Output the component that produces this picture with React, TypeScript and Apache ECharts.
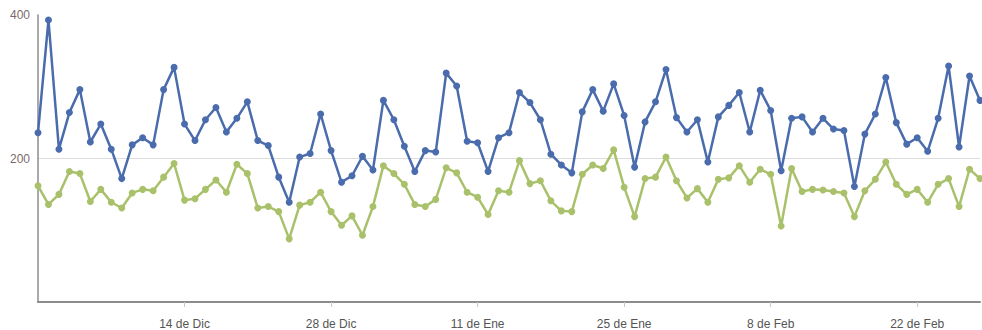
import React, { useEffect, useRef } from "react";
import * as echarts from "echarts";

const monthNames = ["Ene", "Feb", "Mar", "Abr", "May", "Jun", "Jul", "Ago", "Sep", "Oct", "Nov", "Dic"];
const startDate = [2014, 10, 30]; // 30 de Nov
const dayCount = 91;

const tickLabels = ["14 de Dic", "28 de Dic", "11 de Ene", "25 de Ene", "8 de Feb", "22 de Feb"];

const seriesBlue = [
  236, 393, 213, 264, 296, 223, 248, 213, 172, 219, 229, 219, 296, 327, 248, 225, 254, 271, 237, 256,
  279, 225, 218, 174, 139, 202, 207, 262, 211, 167, 176, 203, 184, 281, 254, 217, 182, 211, 209, 319,
  301, 224, 222, 182, 229, 236, 292, 278, 254, 206, 191, 180, 265, 296, 266, 304, 260, 188, 251, 279,
  324, 257, 237, 254, 195, 258, 274, 292, 237, 295, 267, 183, 256, 258, 237, 256, 241, 239, 161, 234,
  262, 313, 250, 220, 229, 210, 256, 329, 216, 315, 281,
];

const seriesGreen = [
  162, 136, 150, 182, 179, 140, 157, 139, 131, 152, 157, 155, 174, 193, 142, 144, 157, 170, 153, 192,
  179, 131, 133, 126, 88, 135, 139, 153, 126, 107, 120, 93, 133, 190, 179, 164, 136, 133, 143, 187,
  180, 153, 146, 122, 155, 153, 197, 165, 169, 141, 127, 126, 178, 191, 186, 212, 160, 119, 172, 174,
  202, 169, 145, 158, 139, 171, 173, 190, 167, 185, 178, 106, 186, 154, 157, 156, 154, 152, 119, 155,
  171, 195, 164, 150, 157, 139, 164, 172, 133, 185, 172,
];

function buildCategories(): string[] {
  const out: string[] = [];
  const d = new Date(startDate[0], startDate[1], startDate[2]);
  for (let i = 0; i < dayCount; i++) {
    out.push(d.getDate() + " de " + monthNames[d.getMonth()]);
    d.setDate(d.getDate() + 1);
  }
  return out;
}

const categories = buildCategories();

export default function App() {
  const ref = useRef<HTMLDivElement>(null);
  useEffect(() => {
    if (!ref.current) return;
    const chart = echarts.init(ref.current, undefined, { renderer: "svg" });
    const showIdx = (idx: number) => tickLabels.indexOf(categories[idx]) >= 0;
    chart.setOption({
      animation: false,
      textStyle: { fontFamily: "Liberation Sans, Arial, sans-serif" },
      grid: { left: 38, right: 2, top: 15, bottom: 28, containLabel: false },
      xAxis: {
        type: "category",
        data: categories,
        boundaryGap: false,
        axisLine: { lineStyle: { color: "#8c8c8c", width: 2 } },
        axisTick: { show: true, interval: (idx: number) => showIdx(idx), length: 5, lineStyle: { color: "#c8c8c8", width: 1 } },
        axisLabel: { interval: (idx: number) => showIdx(idx), color: "#555", fontSize: 12, margin: 16 },
        splitLine: { show: false },
      },
      yAxis: {
        type: "value",
        min: 0,
        max: 400,
        interval: 200,
        axisLine: { show: true, lineStyle: { color: "#8c8c8c", width: 1.5 } },
        axisTick: { show: false },
        axisLabel: { color: "#7a6a6a", fontSize: 12, margin: 8, showMinLabel: false },
        splitLine: { show: true, lineStyle: { color: ["rgba(0,0,0,0)", "#dcdcdc", "rgba(0,0,0,0)"], width: 1 } },
      },
      series: [
        {
          type: "line",
          data: seriesBlue,
          symbol: "circle",
          symbolSize: 7,
          showSymbol: true,
          showAllSymbol: true,
          lineStyle: { color: "#4a6cad", width: 2.5 },
          itemStyle: { color: "#4a6cad" },
        },
        {
          type: "line",
          data: seriesGreen,
          symbol: "circle",
          symbolSize: 7,
          showSymbol: true,
          showAllSymbol: true,
          lineStyle: { color: "#a9c16a", width: 2.5 },
          itemStyle: { color: "#a9c16a" },
        },
      ],
    });
    return () => chart.dispose();
  }, []);
  return <div ref={ref} style={{ width: 982, height: 330, position: "absolute", left: 0, top: 0 }} />;
}
